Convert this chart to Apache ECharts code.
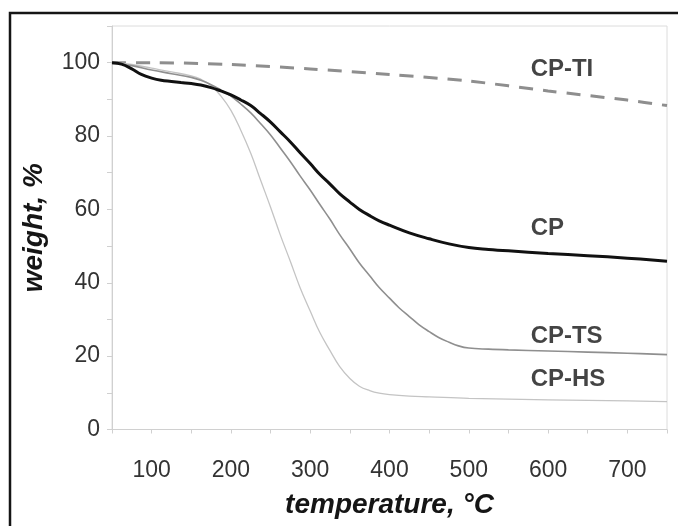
<!DOCTYPE html>
<html><head><meta charset="utf-8">
<script src="https://cdn.jsdelivr.net/npm/echarts@6/dist/echarts.min.js"></script>
<style>html,body{margin:0;padding:0;background:#fff}#c{width:678px;height:526px}</style>
</head><body><div id="c"></div>
<script>
// Temperatures (°C) and weights (%)
const tempCP = [50,62,75,87,100,112,125,137,150,162,175,187,200,212,225,237,250,262,275,287,300,312,325,337,350,362,375,387,400,425,450,475,500,525,550,600,650,700,750];
const weightCP = [100,99.6,98.3,96.8,95.8,95.2,94.9,94.6,94.3,93.9,93.2,92.3,91.2,89.9,88.3,86.2,83.8,81.2,78.4,75.5,72.5,69.6,66.9,64.3,62.0,60.0,58.3,56.9,55.7,53.6,52.0,50.6,49.6,49.1,48.7,48.0,47.4,46.7,45.9];

const tempTS = [50,75,100,125,150,162,175,187,200,212,225,237,250,262,275,287,300,312,325,337,350,362,375,387,400,412,425,437,450,462,475,487,500,525,550,600,650,700,750];
const weightTS = [100,99.2,98.0,97.0,96.0,95.2,94.0,92.6,90.9,88.8,86.3,83.5,80.3,76.8,73.0,69.2,65.3,61.4,57.3,53.2,49.2,45.4,41.9,38.7,35.8,33.2,30.8,28.6,26.7,25.1,23.8,22.8,22.2,21.9,21.7,21.4,21.1,20.8,20.4];

const tempHS = [50,75,100,125,150,162,175,187,200,212,225,237,250,262,275,287,300,312,325,337,350,362,375,387,400,425,450,500,600,700,750];
const weightHS = [100,99.5,98.5,97.5,96.4,95.5,93.8,91.0,87.0,81.8,75.3,68.2,60.6,53.2,45.8,38.8,32.3,26.5,21.5,17.2,13.9,11.8,10.6,9.9,9.5,9.1,8.9,8.5,8.1,7.8,7.6];

const tempTI = [50,100,200,300,400,500,600,700,750];
const weightTI = [100,100,99.5,98.3,96.8,95.0,92.3,89.8,88.3];

const seriesNames = ['CP-TI','CP','CP-TS','CP-HS'];
const labelTemp = [578,578,578,578];
const labelWeight = [98.3,54.7,25.3,13.7];

const xTicks = [100,200,300,400,500,600,700];
const yTicks = [0,20,40,60,80,100];

const zip = (a,b)=>a.map((v,i)=>[v,b[i]]);
const FONT = "'Liberation Sans', Arial, sans-serif";

const chart = echarts.init(document.getElementById('c'), null, {renderer:'canvas'});
chart.setOption({
  animation:false,
  backgroundColor:'#fff',
  grid:{left:112,right:11,top:26,bottom:96.5,show:true,borderColor:'#dcdcdc',borderWidth:1},
  graphic:[{type:'rect',shape:{x:10,y:13,width:700,height:600},style:{fill:'none',stroke:'#151515',lineWidth:2.5},silent:true}],
  xAxis:{type:'value',min:50,max:750,interval:50,
    name:'temperature, °C',nameLocation:'middle',nameGap:62,
    nameTextStyle:{fontFamily:FONT,fontSize:28,fontWeight:'bold',fontStyle:'italic',color:'#151515'},
    axisLine:{show:true,lineStyle:{color:'#d0d0d0',width:1}},
    axisTick:{show:true,length:4,lineStyle:{color:'#d0d0d0'}},
    splitLine:{show:false},
    axisLabel:{margin:30,fontFamily:FONT,fontSize:23,color:'#333',
      formatter:v=>xTicks.includes(v)?String(v):''}},
  yAxis:{type:'value',min:0,max:110,interval:10,
    name:'weight, %',nameLocation:'middle',nameGap:64,nameRotate:90,
    nameTextStyle:{fontFamily:FONT,fontSize:28,fontWeight:'bold',fontStyle:'italic',color:'#151515'},
    axisLine:{show:true,lineStyle:{color:'#d0d0d0',width:1}},
    axisTick:{show:true,length:5,lineStyle:{color:'#d0d0d0'}},
    splitLine:{show:false},
    axisLabel:{margin:12,fontFamily:FONT,fontSize:23,color:'#333',
      formatter:v=>yTicks.includes(v)?String(v):''}},
  series:[
    {name:'CP-TI',type:'line',data:zip(tempTI,weightTI),smooth:0.3,symbol:'none',
      lineStyle:{color:'#8e8e8e',width:3,type:[14,10]}},
    {name:'CP-HS',type:'line',data:zip(tempHS,weightHS),smooth:0.4,symbol:'none',
      lineStyle:{color:'#c4c4c4',width:1.3}},
    {name:'CP-TS',type:'line',data:zip(tempTS,weightTS),smooth:0.4,symbol:'none',
      lineStyle:{color:'#8f8f8f',width:1.6}},
    {name:'CP',type:'line',data:zip(tempCP,weightCP),smooth:0.4,symbol:'none',
      lineStyle:{color:'#111',width:3}},
    {name:'labels',type:'scatter',symbolSize:0,silent:true,
      data:labelTemp.map((t,i)=>[t,labelWeight[i],seriesNames[i]]),
      label:{show:true,position:'right',distance:0,formatter:p=>p.value[2],
        fontFamily:FONT,fontSize:24,fontWeight:'bold',color:'#151515'}}
  ]
});
</script></body></html>
